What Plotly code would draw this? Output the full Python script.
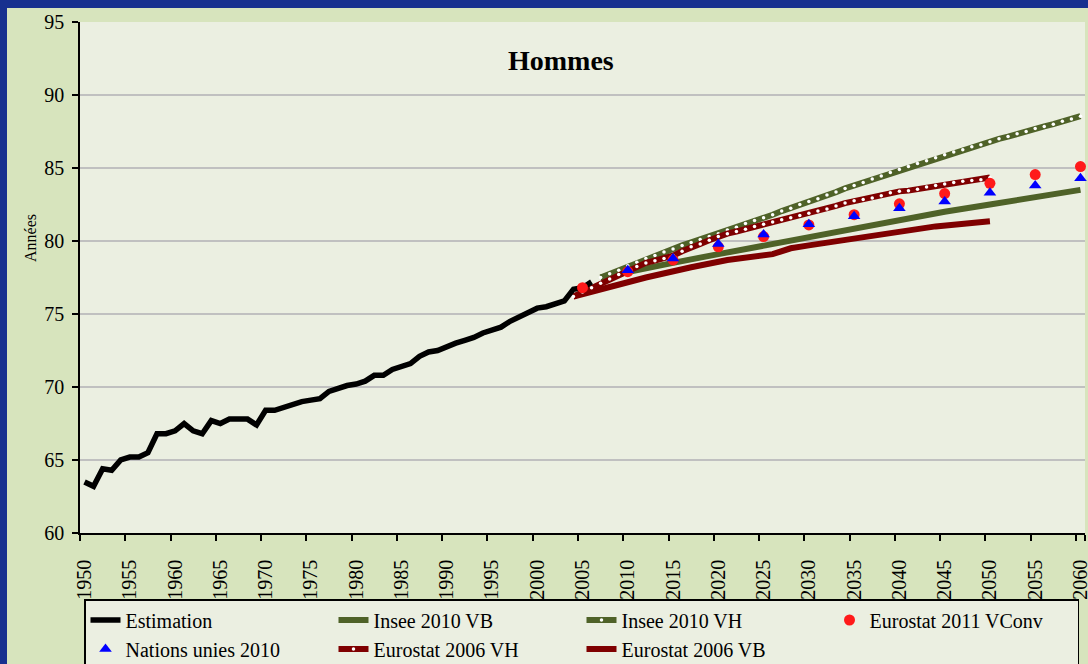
import plotly.graph_objects as go

# ---------------- data ----------------
all_years = [str(y) for y in range(1950, 2061)]
tick_years = [str(y) for y in range(1950, 2061, 5)]

est_years = list(range(1950, 2007))
est_values = [63.5, 63.2, 64.4, 64.3, 65.0, 65.2, 65.2, 65.5, 66.8, 66.8,
              67.0, 67.5, 67.0, 66.8, 67.7, 67.5, 67.8, 67.8, 67.8, 67.4,
              68.4, 68.4, 68.6, 68.8, 69.0, 69.1, 69.2, 69.7, 69.9, 70.1,
              70.2, 70.4, 70.8, 70.8, 71.2, 71.4, 71.6, 72.1, 72.4, 72.5,
              72.8, 73.0, 73.2, 73.4, 73.7, 73.9, 74.1, 74.5, 74.8, 75.1,
              75.4, 75.5, 75.7, 75.9, 76.7, 76.8, 77.2]

insee_vb_years = [2007, 2010, 2015, 2020, 2025, 2030, 2035, 2040, 2045, 2050, 2055, 2060]
insee_vb_values = [77.5, 77.9, 78.5, 79.1, 79.7, 80.2, 80.8, 81.4, 82.0, 82.5, 83.0, 83.5]

insee_vh_years = list(range(2007, 2061))
insee_vh_values = [77.5, 77.75, 78.0, 78.3, 78.55, 78.8, 79.0, 79.25, 79.45, 79.7,
                   79.9, 80.1, 80.3, 80.5, 80.75, 80.95, 81.2, 81.4, 81.6, 81.8,
                   82.05, 82.25, 82.5, 82.7, 82.9, 83.15, 83.35, 83.6, 83.8, 84.0,
                   84.25, 84.45, 84.7, 84.9, 85.1, 85.3, 85.5, 85.7, 85.9, 86.1,
                   86.25, 86.45, 86.6, 86.8, 87.0, 87.15, 87.35, 87.5, 87.7, 87.85,
                   88.0, 88.2, 88.35, 88.55]

vconv_years = list(range(2005, 2061, 5))
vconv_values = [76.8, 77.9, 78.7, 79.6, 80.3, 81.1, 81.8, 82.55, 83.25, 83.95, 84.55, 85.1]

un_years = list(range(2010, 2061, 5))
un_values = [78.0, 78.8, 79.8, 80.45, 81.15, 81.7, 82.25, 82.7, 83.3, 83.8, 84.3]

euro_vh_years = list(range(2004, 2051))
euro_vh_values = [76.2, 76.5, 76.8, 77.1, 77.4, 77.7, 78.0, 78.25, 78.5, 78.65,
                  78.8, 79.0, 79.3, 79.6, 79.8, 80.05, 80.3, 80.5, 80.65, 80.8,
                  81.0, 81.15, 81.3, 81.45, 81.6, 81.75, 81.9, 82.05, 82.2, 82.4,
                  82.6, 82.75, 82.85, 82.95, 83.1, 83.3, 83.4, 83.45, 83.55, 83.7,
                  83.8, 83.9, 84.0, 84.1, 84.15, 84.2, 84.35]

euro_vb_years = [2004, 2008, 2012, 2017, 2021, 2026, 2028, 2030, 2034, 2039, 2044, 2050]
euro_vb_values = [76.2, 76.9, 77.5, 78.2, 78.7, 79.1, 79.5, 79.7, 80.1, 80.6, 81.0, 81.35]

# ---------------- style ----------------
GREEN = "#4f6228"
DARKRED = "#7f0000"
SERIF = "Liberation Serif"

def s(years):
    return [str(y) for y in years]

fig = go.Figure()

fig.add_trace(go.Scatter(x=s(insee_vb_years), y=insee_vb_values, name="Insee 2010 VB",
                         mode="lines", line=dict(color=GREEN, width=6),
                         legendrank=2, cliponaxis=False))
fig.add_trace(go.Scatter(x=s(insee_vh_years), y=insee_vh_values, name="Insee 2010 VH",
                         mode="lines+markers", line=dict(color=GREEN, width=6),
                         marker=dict(color="white", size=3.5, line=dict(width=0)),
                         legendrank=3, cliponaxis=False))
fig.add_trace(go.Scatter(x=s(euro_vb_years), y=euro_vb_values, name="Eurostat 2006 VB",
                         mode="lines", line=dict(color=DARKRED, width=6),
                         legendrank=7, cliponaxis=False))
fig.add_trace(go.Scatter(x=s(euro_vh_years), y=euro_vh_values, name="Eurostat 2006 VH",
                         mode="lines+markers", line=dict(color=DARKRED, width=6),
                         marker=dict(color="white", size=3.5, line=dict(width=0)),
                         legendrank=6, cliponaxis=False))
fig.add_trace(go.Scatter(x=s(est_years), y=est_values, name="Estimation",
                         mode="lines", line=dict(color="black", width=5.5),
                         legendrank=1, cliponaxis=False))
fig.add_trace(go.Scatter(x=s(vconv_years), y=vconv_values, name="Eurostat 2011 VConv",
                         mode="markers", marker=dict(color="#ff1a1a", size=11, symbol="circle"),
                         legendrank=4, cliponaxis=False))
fig.add_trace(go.Scatter(x=s(un_years), y=un_values, name="Nations unies 2010",
                         mode="markers", marker=dict(color="#0000ff", size=11, symbol="triangle-up"),
                         legendrank=5, cliponaxis=False))

W, H = 1088, 664
ML, MR, MT, MB = 80, 3, 22, 131
PW, PH = W - ML - MR, H - MT - MB

def px_x(px):
    return (px - ML) / PW

def px_y(py):
    return (H - MB - py) / PH

BLUE = "#17308f"
shapes = [
    dict(type="rect", xref="paper", yref="paper", x0=px_x(0), x1=px_x(W), y0=px_y(8), y1=px_y(0),
         fillcolor=BLUE, line=dict(width=0), layer="above"),
    dict(type="rect", xref="paper", yref="paper", x0=px_x(0), x1=px_x(7), y0=px_y(H), y1=px_y(0),
         fillcolor=BLUE, line=dict(width=0), layer="above"),
]

fig.update_layout(
    width=W, height=H,
    margin=dict(l=ML, r=MR, t=MT, b=MB, autoexpand=False),
    paper_bgcolor="#d7e4bd",
    plot_bgcolor="#ebefe1",
    font=dict(family=SERIF, color="black", size=20),
    shapes=shapes,
    showlegend=True,
    legend=dict(
        orientation="h", x=px_x(84), xanchor="left", y=px_y(599), yanchor="top",
        bgcolor="#ebefe1", bordercolor="black", borderwidth=1.5,
        font=dict(family=SERIF, size=20, color="black"),
        entrywidth=203, entrywidthmode="pixels", traceorder="normal",
        itemwidth=30,
    ),
    annotations=[
        dict(text="<b>Hommes</b>", xref="paper", yref="paper", x=px_x(561), y=px_y(60),
             xanchor="center", yanchor="middle",
             showarrow=False, font=dict(family=SERIF, size=28, color="black")),
        dict(text="Années", xref="paper", yref="paper", x=px_x(30), y=px_y(238),
             xanchor="center", yanchor="middle",
             textangle=-90, showarrow=False, font=dict(family=SERIF, size=16, color="black")),
    ],
)

fig.update_xaxes(
    type="category", categoryorder="array", categoryarray=all_years,
    range=[-0.5, len(all_years) - 0.5],
    tickmode="array", tickvals=tick_years, ticktext=tick_years,
    tickson="boundaries", ticks="outside", ticklen=6, tickwidth=1.5, tickcolor="black",
    tickangle=-90, tickfont=dict(family=SERIF, size=20, color="black"),
    showline=True, linecolor="black", linewidth=1.5,
    showgrid=False, zeroline=False, ticklabelstandoff=17,
)
fig.update_yaxes(
    range=[60, 95], dtick=5, tick0=60,
    ticks="outside", ticklen=6, tickwidth=1.5, tickcolor="black",
    tickfont=dict(family=SERIF, size=20, color="black"),
    showline=True, linecolor="black", linewidth=1.5,
    showgrid=True, gridcolor="#c0c0c0", gridwidth=1.5, zeroline=False,
    ticklabelstandoff=4,
)

fig.write_html(
    "out.html",
    config={"displayModeBar": False},
    post_script="document.body.style.margin='0';document.body.style.overflow='hidden';",
)
